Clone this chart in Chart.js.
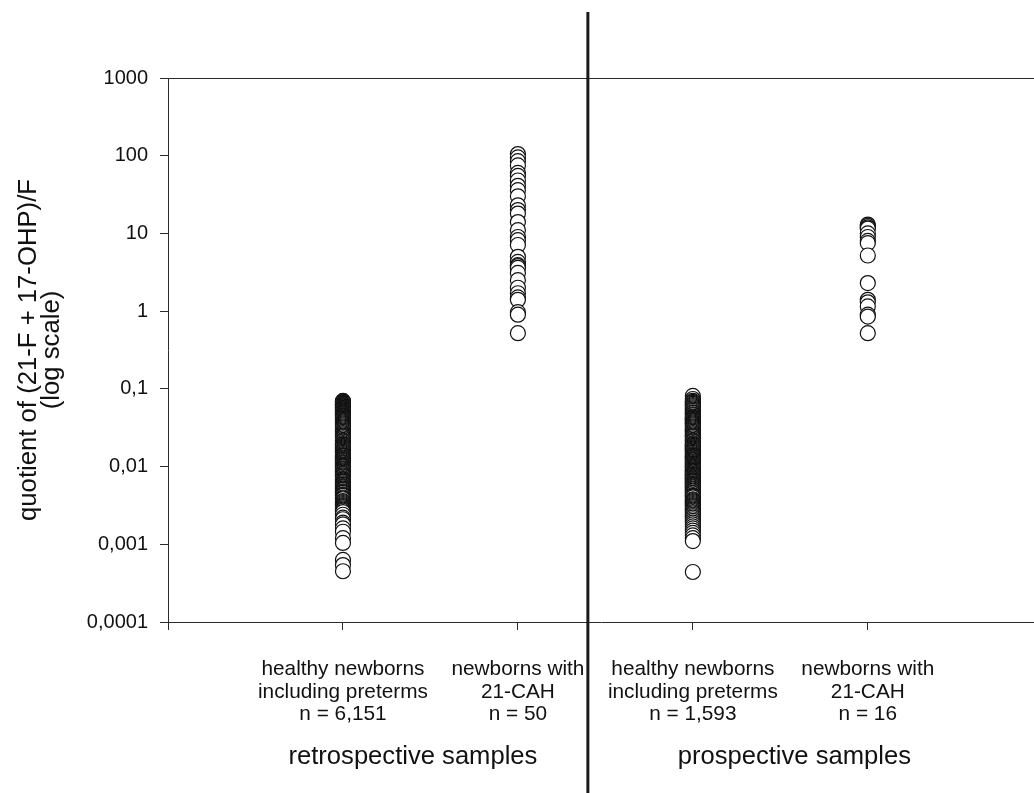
<!DOCTYPE html>
<html>
<head>
<meta charset="utf-8">
<script src="https://cdn.jsdelivr.net/npm/chart.js@4.4.1/dist/chart.umd.min.js"></script>
<style>
  html, body { margin: 0; padding: 0; background: #fff; }
  canvas { display: block; }
</style>
</head>
<body>
<canvas id="chart" width="1034" height="793"></canvas>
<script>
// Category labels under each column (one entry per line)
const categories = [
  ['healthy newborns', 'including preterms', 'n = 6,151'],
  ['newborns with', '21-CAH', 'n = 50'],
  ['healthy newborns', 'including preterms', 'n = 1,593'],
  ['newborns with', '21-CAH', 'n = 16']
];
const groupLabels = ['retrospective samples', 'prospective samples'];

// Log-axis ticks and their comma-decimal labels
const yTickValues = [0.0001, 0.001, 0.01, 0.1, 1, 10, 100, 1000];
const yTickLabels = ['0,0001', '0,001', '0,01', '0,1', '1', '10', '100', '1000'];
const yTitle = ['quotient of (21-F + 17-OHP)/F', '(log scale)'];

// Quotient values per group
const retroHealthy = [
  0.070, 0.069, 0.068, 0.067, 0.066, 0.065, 0.064, 0.063, 0.062, 0.061,
  0.060, 0.059, 0.058, 0.057, 0.056, 0.055, 0.054, 0.053, 0.052, 0.051,
  0.050, 0.049, 0.048, 0.047, 0.046, 0.045, 0.044, 0.043, 0.042, 0.041,
  0.040, 0.039, 0.038, 0.037, 0.036, 0.035, 0.034, 0.033, 0.032, 0.031,
  0.030, 0.029, 0.028, 0.027, 0.026, 0.025, 0.0245, 0.024, 0.023, 0.022,
  0.0215, 0.021, 0.020, 0.0195, 0.019, 0.0185, 0.018, 0.0175, 0.017, 0.0165,
  0.016, 0.0155, 0.015, 0.0145, 0.014, 0.0137, 0.0135, 0.013, 0.0128, 0.0126,
  0.0122, 0.012, 0.0118, 0.0114, 0.0112, 0.011, 0.0106, 0.0104, 0.0102, 0.010,
  0.0098, 0.0095, 0.0093, 0.0092, 0.0089, 0.0087, 0.0086, 0.0083, 0.0081, 0.008,
  0.0077, 0.0075, 0.0074, 0.0071, 0.0069, 0.0068, 0.0066, 0.0064, 0.0063, 0.0061,
  0.0059, 0.0058, 0.0056, 0.0055, 0.0054, 0.0052, 0.0051, 0.0050, 0.0048, 0.0047,
  0.0046, 0.0044, 0.0043, 0.0042, 0.0040, 0.0039, 0.0038, 0.0036, 0.0035, 0.0034,
  0.0033, 0.0032, 0.0031, 0.0030, 0.0029, 0.0028, 0.0027, 0.0026, 0.0024, 0.0022,
  0.0021, 0.0019, 0.0018, 0.0016, 0.00145, 0.0012, 0.00104, 0.00063, 0.00054, 0.00045
];
const retroCAH = [
  105, 95, 85, 75, 60, 55, 48, 41, 36, 30,
  23, 20, 18, 14, 11, 9, 8.2, 7.1, 5, 4.3,
  3.9, 3.8, 3.6, 3.1, 2.5, 2.0, 1.7, 1.5, 1.4, 0.97,
  0.9, 0.52
];
const prospHealthy = [
  0.081, 0.074, 0.070, 0.068, 0.066, 0.064, 0.062, 0.060, 0.058, 0.056,
  0.054, 0.052, 0.050, 0.049, 0.047, 0.046, 0.044, 0.043, 0.042, 0.041,
  0.040, 0.039, 0.038, 0.037, 0.036, 0.035, 0.034, 0.033, 0.032, 0.031,
  0.030, 0.029, 0.028, 0.027, 0.026, 0.025, 0.0245, 0.024, 0.023, 0.022,
  0.0215, 0.021, 0.020, 0.0195, 0.019, 0.0185, 0.018, 0.0175, 0.017, 0.0165,
  0.016, 0.0155, 0.015, 0.0145, 0.014, 0.0137, 0.0133, 0.013, 0.0126, 0.0123,
  0.012, 0.0117, 0.0114, 0.0111, 0.0108, 0.0105, 0.0102, 0.010, 0.0097, 0.0095,
  0.0092, 0.009, 0.0088, 0.0086, 0.0084, 0.0082, 0.008, 0.0078, 0.0076, 0.0074,
  0.0072, 0.007, 0.0069, 0.0067, 0.0066, 0.0064, 0.0063, 0.0061, 0.006, 0.0058,
  0.0057, 0.0055, 0.0054, 0.0052, 0.0051, 0.0049, 0.0048, 0.0046, 0.0045, 0.0043,
  0.0042, 0.0041, 0.004, 0.0038, 0.0037, 0.0036, 0.0035, 0.0034, 0.0033, 0.0032,
  0.0031, 0.003, 0.0029, 0.0028, 0.0027, 0.0026, 0.0025, 0.0024, 0.0023, 0.0022,
  0.0021, 0.002, 0.0019, 0.0018, 0.0017, 0.0016, 0.0015, 0.0014, 0.0013, 0.0012,
  0.0011, 0.00044
];
const prospCAH = [
  13, 12.5, 12, 11.5, 10, 9, 8, 7.5, 5.2, 2.3, 1.4, 1.3, 1.15, 0.9, 0.85, 0.52
];
const seriesValues = [retroHealthy, retroCAH, prospHealthy, prospCAH];

const FONT = '"Liberation Sans", Arial, Helvetica, sans-serif';
const INK = '#111';
const LINE = '#2a2a2a';

// Frame top edge, the retrospective/prospective divider and the group captions
const overlay = {
  id: 'overlay',
  afterDraw(chart) {
    const { ctx, chartArea, scales: { x, y } } = chart;
    ctx.save();
    ctx.strokeStyle = LINE;
    ctx.lineWidth = 1;
    const yt = Math.round(y.getPixelForValue(1000)) + 0.5;
    ctx.beginPath();
    ctx.moveTo(chartArea.left, yt);
    ctx.lineTo(chartArea.right, yt);
    ctx.stroke();

    const xd = x.getPixelForValue(2.4);
    ctx.strokeStyle = '#1a1a1a';
    ctx.lineWidth = 3;
    ctx.beginPath();
    ctx.moveTo(xd, 12);
    ctx.lineTo(xd, chart.height);
    ctx.stroke();

    const groupCenters = [1.4, 3.58];
    ctx.fillStyle = INK;
    ctx.font = '25.6px ' + FONT;
    ctx.textAlign = 'center';
    ctx.textBaseline = 'alphabetic';
    groupLabels.forEach((t, i) => ctx.fillText(t, x.getPixelForValue(groupCenters[i]), 764));
    ctx.restore();
  }
};

new Chart(document.getElementById('chart'), {
  type: 'scatter',
  data: {
    datasets: seriesValues.map((vals, i) => ({
      label: categories[i].join(' '),
      data: vals.map(v => ({ x: i + 1, y: v })),
      pointRadius: 7.5,
      pointHoverRadius: 7.5,
      pointBorderWidth: 1.2,
      pointBackgroundColor: '#fff',
      pointBorderColor: '#111',
      showLine: false
    }))
  },
  options: {
    responsive: false,
    animation: false,
    devicePixelRatio: 1,
    events: [],
    layout: { autoPadding: false, padding: { top: 78, right: 0, bottom: 0, left: 0 } },
    plugins: { legend: { display: false }, tooltip: { enabled: false } },
    scales: {
      x: {
        type: 'linear',
        min: 0,
        max: 4.95,
        afterBuildTicks: s => { s.ticks = [0, 1, 2, 3, 4].map(v => ({ value: v })); },
        afterFit: s => { s.height = 171; s.paddingLeft = 0; s.paddingRight = 0; },
        ticks: {
          autoSkip: false,
          maxRotation: 0,
          minRotation: 0,
          padding: 27.5,
          color: INK,
          font: { family: FONT, size: 20.8, lineHeight: 1.1 },
          callback: v => (v >= 1 && v <= 4 ? categories[v - 1] : '')
        },
        grid: { display: true, drawOnChartArea: false, drawTicks: true, tickLength: 8, color: LINE, lineWidth: 1 },
        border: { display: true, color: LINE, width: 1 }
      },
      y: {
        type: 'logarithmic',
        min: 0.0001,
        max: 1000,
        afterBuildTicks: s => { s.ticks = yTickValues.map(v => ({ value: v })); },
        afterFit: s => { s.width = 168; s.paddingTop = 0; s.paddingBottom = 0; },
        ticks: {
          padding: 12,
          color: INK,
          font: { family: FONT, size: 20 },
          callback: (v, i) => yTickLabels[i]
        },
        grid: { display: true, drawOnChartArea: false, drawTicks: true, tickLength: 8, color: LINE, lineWidth: 1 },
        border: { display: true, color: LINE, width: 1 },
        title: {
          display: true,
          text: yTitle,
          color: INK,
          font: { family: FONT, size: 25.7, lineHeight: 0.9 },
          padding: { top: 17.5, bottom: 0 }
        }
      }
    }
  },
  plugins: [overlay]
});
</script>
</body>
</html>
